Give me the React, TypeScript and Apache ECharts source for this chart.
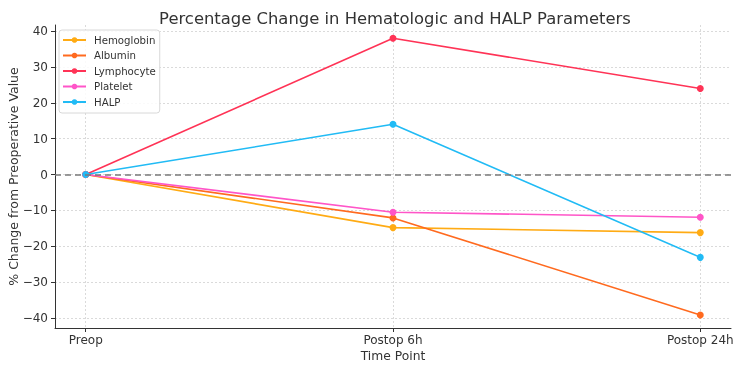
import React, { useEffect, useRef } from "react";
import * as echarts from "echarts";

// Time points along the x axis
const timePoints = ["Preop", "Postop 6h", "Postop 24h"];

// Percentage change from the preoperative value, per parameter
const hemoglobin = [0, -14.8, -16.2];
const albumin = [0, -12.1, -39.2];
const lymphocyte = [0, 38.0, 24.0];
const platelet = [0, -10.5, -11.9];
const halp = [0, 14.0, -23.1];

const yTicks = [-40, -30, -20, -10, 0, 10, 20, 30, 40];

const seriesDefs = [
  { name: "Hemoglobin", data: hemoglobin, color: "#ffab14" },
  { name: "Albumin", data: albumin, color: "#ff6a1f" },
  { name: "Lymphocyte", data: lymphocyte, color: "#ff3356" },
  { name: "Platelet", data: platelet, color: "#ff55c8" },
  { name: "HALP", data: halp, color: "#21bbf5" },
];

const FONT = "DejaVu Sans";
const minus = (v: number) => String(v).replace("-", "\u2212");

export default function App() {
  const ref = useRef<HTMLDivElement>(null);

  useEffect(() => {
    if (!ref.current) return;
    const chart = echarts.init(ref.current, undefined, { renderer: "svg" });

    const series: any[] = seriesDefs.map((s) => ({
      name: s.name,
      type: "line",
      data: s.data.map((v, i) => [i, v]),
      color: s.color,
      symbol: "circle",
      symbolSize: 7,
      lineStyle: { width: 1.6, color: s.color },
      itemStyle: { color: s.color },
      z: 3,
    }));

    // dashed zero reference line
    series.push({
      name: "__zero",
      type: "line",
      data: [],
      silent: true,
      markLine: {
        silent: true,
        symbol: "none",
        label: { show: false },
        lineStyle: { color: "#7a7a7a", type: [6, 4], width: 1.5 },
        data: [{ yAxis: 0 }],
      },
    });

    chart.setOption({
      animation: false,
      textStyle: { fontFamily: FONT },
      title: {
        text: "Percentage Change in Hematologic and HALP Parameters",
        left: 390,
        top: 5,
        textAlign: "center",
        textStyle: { fontFamily: FONT, fontSize: 16.4, fontWeight: "normal", color: "#333" },
      },
      legend: {
        orient: "vertical",
        left: 59,
        top: 30,
        data: seriesDefs.map((s) => s.name),
        itemWidth: 23,
        itemHeight: 7,
        itemGap: 5.5,
        padding: [5, 4, 6, 3],
        backgroundColor: "rgba(255,255,255,0.85)",
        borderColor: "#d8d8d8",
        borderWidth: 1,
        borderRadius: 3,
        textStyle: {
          fontFamily: FONT,
          fontSize: 10.2,
          color: "#333",
          lineHeight: 10,
          padding: [0, 0, 0, 3],
        },
      },
      grid: {
        left: 55,
        right: 13,
        top: 25,
        bottom: 39,
        containLabel: false,
        outerBoundsMode: "none",
      },
      xAxis: {
        type: "value",
        min: -0.1,
        max: 2.1,
        name: "Time Point",
        nameLocation: "middle",
        nameGap: 22,
        nameMoveOverlap: false,
        nameTextStyle: { fontFamily: FONT, fontSize: 12.3, color: "#333" },
        axisLine: { show: true, onZero: false, lineStyle: { color: "#333", width: 1 } },
        axisTick: { show: true, customValues: [0, 1, 2], length: 4, lineStyle: { color: "#333" } },
        axisLabel: {
          customValues: [0, 1, 2],
          formatter: (v: number) => timePoints[Math.round(v)] ?? "",
          fontFamily: FONT,
          fontSize: 12,
          color: "#333",
          margin: 6,
        },
        splitLine: { show: true, lineStyle: { color: "#d0d0d0", type: [2, 2], width: 0.8 } },
      },
      yAxis: {
        type: "value",
        min: -42.8,
        max: 41.7,
        name: "% Change from Preoperative Value",
        nameLocation: "middle",
        nameGap: 35,
        nameMoveOverlap: false,
        nameTextStyle: { fontFamily: FONT, fontSize: 12.5, color: "#333" },
        axisLine: { show: true, onZero: false, lineStyle: { color: "#333", width: 1 } },
        axisTick: { show: true, customValues: yTicks, length: 4, lineStyle: { color: "#333" } },
        axisLabel: {
          customValues: yTicks,
          formatter: (v: number) => minus(v),
          fontFamily: FONT,
          fontSize: 12,
          color: "#333",
          margin: 7,
        },
        splitLine: { show: true, lineStyle: { color: "#d0d0d0", type: [2, 2], width: 0.8 } },
      },
      series,
    });

    return () => chart.dispose();
  }, []);

  return (
    <div
      ref={ref}
      style={{ position: "fixed", left: 0, top: 0, width: 744, height: 367 }}
    />
  );
}
